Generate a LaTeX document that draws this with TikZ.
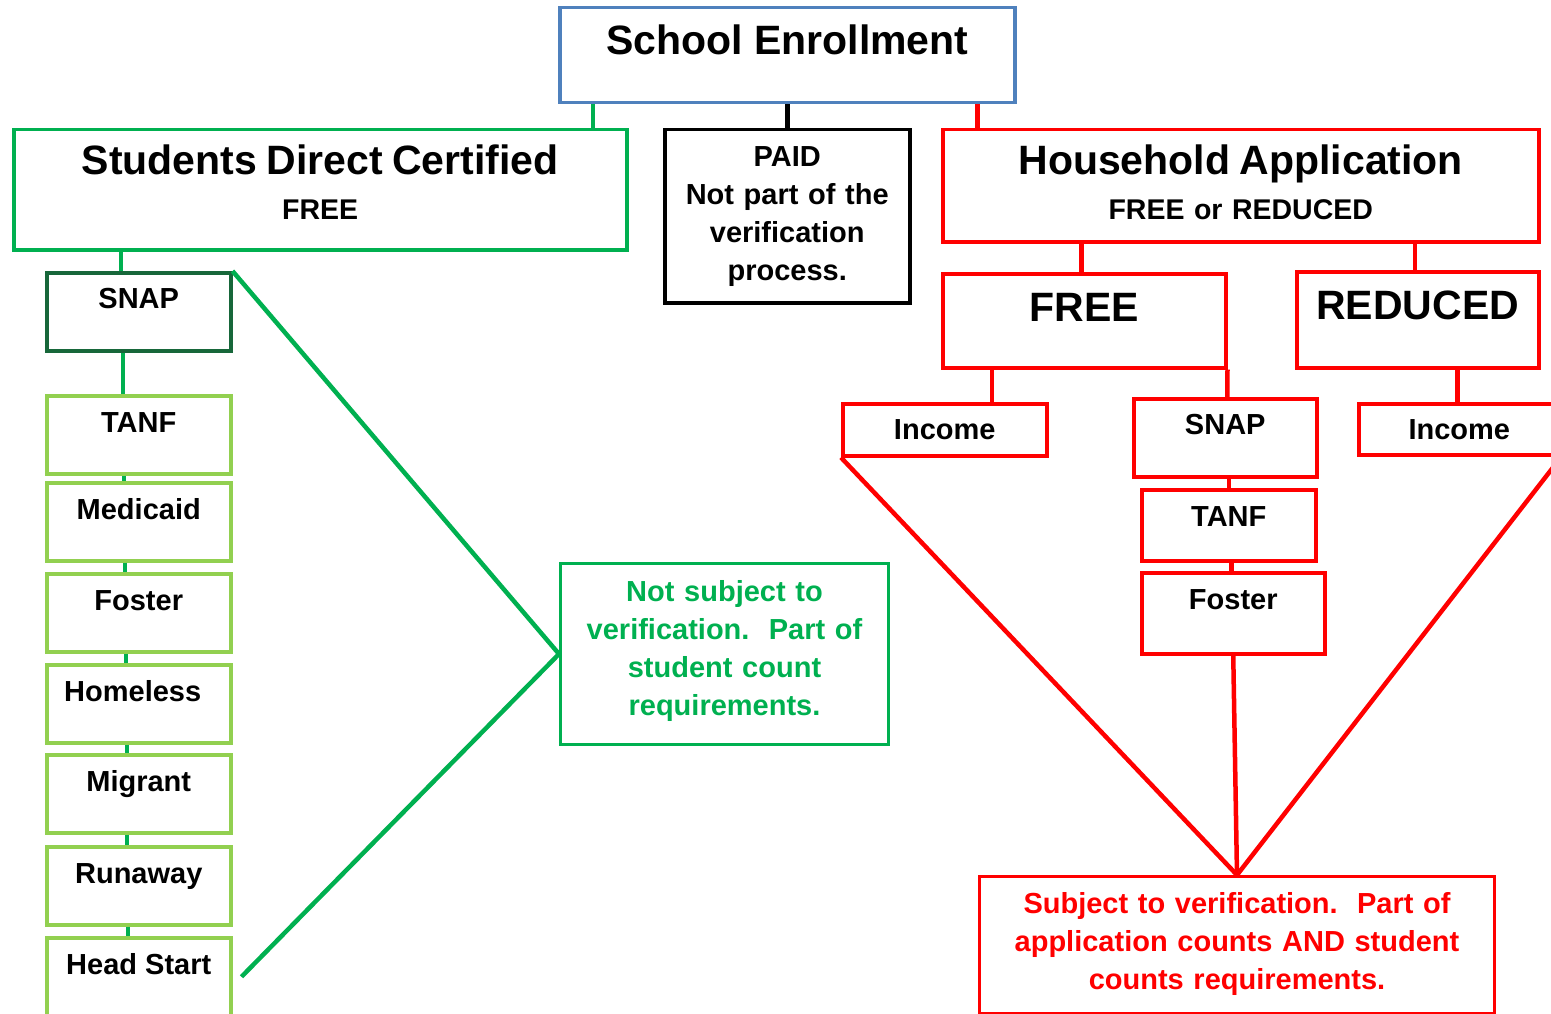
\documentclass[tikz,border=0pt]{standalone}
\usepackage{fontspec}
\setmainfont{Liberation Sans}
\usetikzlibrary{positioning}
\definecolor{sBlue}{HTML}{4F81BD}
\definecolor{sGreen}{HTML}{00B050}
\definecolor{sDarkGreen}{HTML}{17673A}
\definecolor{sLightGreen}{HTML}{92D050}
\definecolor{sRed}{HTML}{FF0000}
\newcommand{\bigtxt}{\fontsize{41}{45}\selectfont}

\begin{document}
\begin{tikzpicture}[x=1pt, y=-1pt,
  box/.style={draw, rectangle, anchor=north west, inner sep=0pt, line width=3.5pt,
              font=\fontsize{29}{38}\selectfont\bfseries},
  wrapbox/.style={align=center, text width=#1},
  gbox/.style={box, draw=sLightGreen, minimum width=184pt, text height=37pt, text depth=41pt},
  rbox/.style={box, draw=sRed},
  gline/.style={sGreen, line width=4.5pt},
  rline/.style={sRed, line width=4.5pt}]
  \clip (0,0) rectangle (1551,1014);

  % top row
  \node[box, draw=sBlue, minimum width=455pt, text height=47pt, text depth=48pt,
        font=\bigtxt\bfseries] (school) at (558,6) {School Enrollment};
  \node[box, draw=sGreen, wrapbox=613pt, text height=45pt, text depth=75pt,
        font=\fontsize{28.5}{45}\selectfont\bfseries] (sdc) at (12,128)
        {{\bigtxt Students Direct Certified}\\FREE};
  \node[box, draw=black, wrapbox=245pt, text height=37pt, text depth=136pt] (paid) at (663,128)
        {PAID\\Not part of the\\verification\\process.};
  \node[rbox, wrapbox=596pt, text height=45pt, text depth=67pt,
        font=\fontsize{28.5}{45}\selectfont\bfseries] (house) at (941,128)
        {{\bigtxt Household Application}\\FREE or REDUCED};

  % household side
  \node[rbox, minimum width=283pt, text height=48pt, text depth=46pt, font=\bigtxt\bfseries] (free) at (941,272) {FREE};
  \node[rbox, minimum width=242pt, text height=48pt, text depth=48pt, font=\bigtxt\bfseries] (reduced) at (1295,270) {REDUCED};
  \node[rbox, minimum width=204pt, text height=36pt, text depth=16pt] (incL) at (841,402) {Income};
  \node[rbox, minimum width=183pt, text height=36pt, text depth=42pt] (snapR) at (1132,397) {SNAP};
  \node[rbox, minimum width=201pt, text height=36pt, text depth=15pt] (incR) at (1357,402) {Income};
  \node[rbox, minimum width=174pt, text height=37pt, text depth=34pt] (tanfR) at (1140,488) {TANF};
  \node[rbox, minimum width=183pt, text height=37pt, text depth=44pt] (fosterR) at (1140,571) {Foster};
  \node[rbox, line width=3pt, wrapbox=515pt, text height=37pt, text depth=100pt, text=sRed] (subj) at (978,875)
        {Subject to verification.\ \ Part of\\application counts AND student\\counts requirements.};

  % direct certified side
  \node[box, draw=sDarkGreen, minimum width=184pt, text height=36pt, text depth=42pt] (snapG) at (45,271) {SNAP};
  \foreach \nm/\lbl/\yy in {tanfG/TANF/394, medG/Medicaid/481, fostG/Foster/572, homeG/Homeless\kern12pt/663,
                            migG/Migrant/753, runG/Runaway/845, headG/Head Start/936}
    \node[gbox] (\nm) at (45,\yy) {\lbl};
  \node[box, draw=sGreen, line width=3pt, wrapbox=328pt, text height=38pt, text depth=143pt, text=sGreen] (notsub) at (559,562)
        {Not subject to\\verification.\ \ Part of\\student count\\requirements.};

  \draw[gline] ([xshift=35pt]school.south west) -- ([xshift=35pt]school.south west |- sdc.north);
  \draw[black, line width=4.5pt] (school.south) -- (paid.north);
  \draw[rline] ([xshift=-39pt]school.south east) -- ([xshift=-39pt]school.south east |- house.north);

  \draw[gline] ([xshift=-18pt]snapG.north |- sdc.south) -- ([xshift=-18pt]snapG.north);
  \draw[gline] ([xshift=-16pt]snapG.south) -- ([xshift=-16pt]tanfG.north);
  \foreach \up/\dn/\dx in {tanfG/medG/15, medG/fostG/14, fostG/homeG/13, homeG/migG/12, migG/runG/12, runG/headG/11}
    \draw[gline] ([xshift=-\dx pt]\up.south) -- ([xshift=-\dx pt]\dn.north);
  \draw[gline] (snapG.north east) -- (notsub.west);
  \draw[gline] ([xshift=9pt]headG.east) -- (notsub.west);

  \draw[rline] ([xshift=-3pt]free.north |- house.south) -- ([xshift=-3pt]free.north);
  \draw[rline] ([xshift=-3pt]reduced.north |- house.south) -- ([xshift=-3pt]reduced.north);
  \draw[rline] ([xshift=47pt]incL.north |- free.south) -- ([xshift=47pt]incL.north);
  \draw[rline] (free.south east) -- ([xshift=2pt]snapR.north);
  \draw[rline] ([xshift=-2pt]incR.north |- reduced.south) -- ([xshift=-2pt]incR.north);
  \draw[rline] (tanfR.north |- snapR.south) -- (tanfR.north);
  \draw[rline] ([xshift=-2pt]fosterR.north |- tanfR.south) -- ([xshift=-2pt]fosterR.north);
  \draw[rline] (incL.south west) -- (subj.north);
  \draw[rline] (fosterR.south) -- (subj.north);
  \draw[rline] (incR.south east) -- (subj.north);
\end{tikzpicture}
\end{document}
